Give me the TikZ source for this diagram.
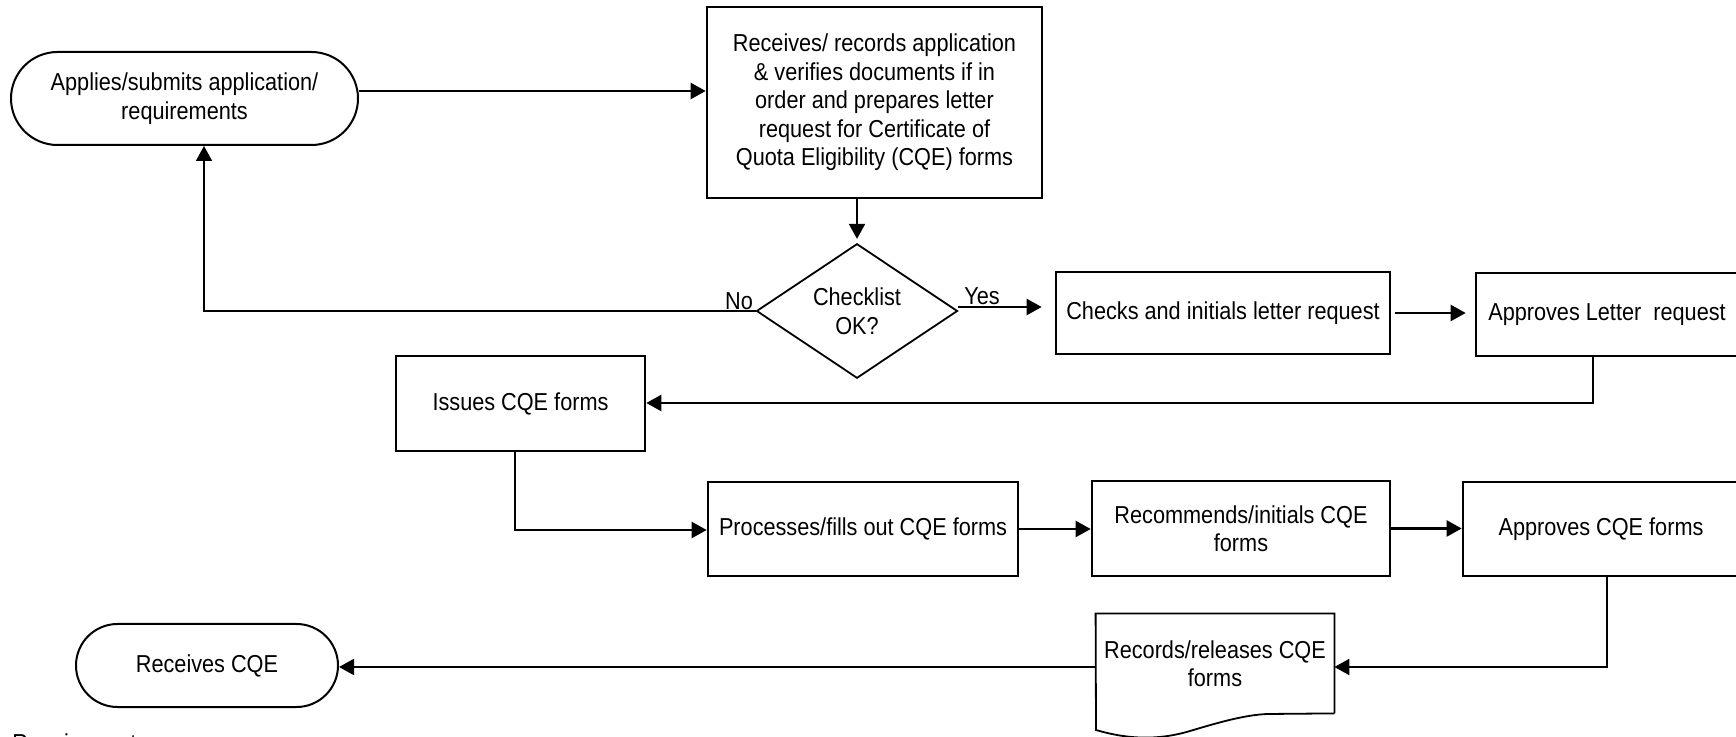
\documentclass[tikz,border=0pt]{standalone}
\usepackage{fontspec}
\setmainfont{Liberation Sans}[FakeStretch=0.885]
\usetikzlibrary{shapes.geometric,arrows.meta,calc}
\begin{document}
\begin{tikzpicture}[x=0.5pt,y=-0.5pt,
  every node/.style={font=\fontsize{12.25}{14.25}\selectfont, inner sep=0pt, align=center},
  procbox/.style={draw, rectangle, line width=1.3pt},
  startstop/.style={draw, rectangle, line width=1pt},
  decision/.style={draw, diamond, line width=0.9pt},
  docline/.style={line width=0.9pt},
  arr/.style={line width=1.1pt, -{Triangle[length=7.5pt,width=8pt]}},
  arrthin/.style={line width=0.8pt, -{Triangle[length=7.5pt,width=8pt]}}]
\useasboundingbox (0,0) rectangle (1736,737);

% nodes
\node[startstop, minimum width=173.5pt, minimum height=46.5pt, rounded corners=23.25pt] (app) at (184.5,98.5) {Applies/submits application/\\requirements};
\node[procbox, minimum width=167.5pt, minimum height=95.5pt] (rec) at (874.5,102.5) {Receives/ records application\\\& verifies documents if in\\order and prepares letter\\request for Certificate of\\Quota Eligibility (CQE) forms};
\node[decision, minimum width=100.5pt, minimum height=62.5pt] (dia) at (857,311) {Checklist\\OK?};
\node[procbox, minimum width=167pt, minimum height=41pt] (chk) at (1223,313) {Checks and initials letter request};
\node[procbox, minimum width=131pt, minimum height=41.5pt] (apl) at (1607,314.5) {Approves Letter~ request};
\node[procbox, minimum width=124.5pt, minimum height=47.5pt] (iss) at (520.5,403.5) {Issues CQE forms};
\node[procbox, minimum width=155pt, minimum height=47pt] (pro) at (863,529) {Processes/fills out CQE forms};
\node[procbox, minimum width=149pt, minimum height=47.5pt] (rcm) at (1241,528.5) {Recommends/initials CQE\\forms};
\node[procbox, minimum width=138pt, minimum height=47pt] (apc) at (1601,529) {Approves CQE forms};
\node[rectangle, minimum width=119pt, minimum height=49.5pt] (rel) at (1215,663.5) {Records/releases CQE\\forms};
\draw[docline] (rel.south east) -- (rel.north east) -- (rel.north west) -- (1096,730)
  .. controls (1130,740) and (1160,740) .. (1190,731)
  .. controls (1220,722) and (1245,715) .. (1267,714) -- (rel.south east);
\node[startstop, minimum width=131pt, minimum height=41.5pt, rounded corners=20.75pt] (rcv) at (207,665.5) {Receives CQE};

% labels
\node[anchor=south] (nolbl) at (739,310) {No};
\node[anchor=south] (yeslbl) at (982,305) {Yes};
\node[anchor=north west] (reqlbl) at (12,733) {Requirements};

% connectors
\draw[arr] ([yshift=3.75pt]app.east) -- ([yshift=3.75pt]app.east -| rec.west);
\draw[arr] (rec.south -| dia.north) -- ([yshift=2pt]dia.north);
\coordinate (nocorner) at (204,311);
\draw[arrthin] (dia.west) -- (nocorner) -- (nocorner |- app.south);
\draw[arr, shorten >=6.5pt] ([yshift=2pt]dia.east) -- ([yshift=2pt]dia.east -| chk.west);
\draw[arr, shorten <=2pt, shorten >=4.5pt] (chk.east) -- (chk.east -| apl.west);
\coordinate (c1) at (1593,403);
\draw[arr] (c1 |- apl.south) -- (c1) -- (c1 -| iss.east);
\coordinate (c2) at (515,530);
\draw[arr] (c2 |- iss.south) -- (c2) -- (c2 -| pro.west);
\draw[arr] (pro.east) -- (pro.east -| rcm.west);
\draw[arr] (rcm.east) -- (rcm.east -| apc.west);
\coordinate (c3) at (1607,667);
\draw[arr] (c3 |- apc.south) -- (c3) -- (c3 -| rel.east);
\draw[arr] (c3 -| rel.west) -- (c3 -| rcv.east);
\end{tikzpicture}
\end{document}
